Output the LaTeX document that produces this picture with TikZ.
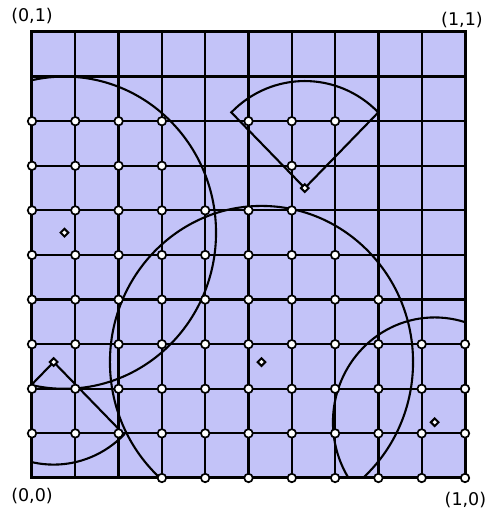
\documentclass[tikz,border=0pt]{standalone}
\usepackage{fontspec}
\setmainfont{DejaVu Sans}
\usepackage{tikz}
\usetikzlibrary{shapes.geometric}
\definecolor{cellfill}{RGB}{195,195,248}

\begin{document}
\begin{tikzpicture}[
  x=433pt,y=446pt,
  gridline/.style={line width=2.2pt},
  frame/.style={line width=3pt},
  region/.style={line width=2.1pt},
  hit/.style={circle,draw=black,fill=white,line width=1.7pt,
              inner sep=0pt,minimum size=8.5pt},
  centre/.style={diamond,draw=black,fill=white,line width=2pt,
                 inner sep=0pt,minimum size=8.5pt},
  corner/.style={font=\fontsize{17.5}{20}\selectfont}
]
\useasboundingbox (-0.0739,-0.074) rectangle (1.0485,1.0717);

% Unit square with grid
\fill[cellfill] (0,0) rectangle (1,1);
\foreach \k in {1,...,9} {
  \draw[gridline] (\k/10,0) -- (\k/10,1);
  \draw[gridline] (0,\k/10) -- (1,\k/10);
}
\draw[frame] (0,0) rectangle (1,1);

% Region centres
\coordinate (circA) at (0.075,0.55);
\coordinate (circB) at (0.53,0.26);
\coordinate (circC) at (0.93,0.125);
\coordinate (secA) at (0.63,0.65);
\coordinate (secB) at (0.05,0.26);

% Regions
\begin{scope}
  \clip (0,0) rectangle (1,1);
  \draw[region] (circA) circle[radius=0.35];
  \draw[region] (circB) circle[radius=0.35];
  \draw[region] (circC) circle[radius=0.235];
  \draw[region] (secA) -- +(45:0.24) arc[start angle=45,end angle=135,radius=0.24] -- cycle;
  \draw[region] (secB) -- +(-135:0.23) arc[start angle=-135,end angle=-45,radius=0.23] -- cycle;
\end{scope}

% Grid points inside a region
\foreach \j/\cols in {8/{0,1,2,3,5,6,7},7/{0,1,2,3,6},6/{0,...,6},5/{0,...,7},
                      4/{0,...,8},3/{0,...,10},2/{0,...,10},1/{0,...,10},0/{3,...,10}}
  \foreach \i in \cols
    \node[hit] (p\i-\j) at (\i/10,\j/10) {};

\node[centre] (mA) at (circA) {};
\node[centre] (mB) at (circB) {};
\node[centre] (mC) at (circC) {};
\node[centre] (mD) at (secA) {};
\node[centre] (mE) at (secB) {};

% Corner labels
\node[corner] (lbTL) at (0,1.036) {(0,1)};
\node[corner] (lbTR) at (0.993,1.027) {(1,1)};
\node[corner] (lbBL) at (0,-0.040) {(0,0)};
\node[corner] (lbBR) at (1.001,-0.049) {(1,0)};
\end{tikzpicture}
\end{document}
